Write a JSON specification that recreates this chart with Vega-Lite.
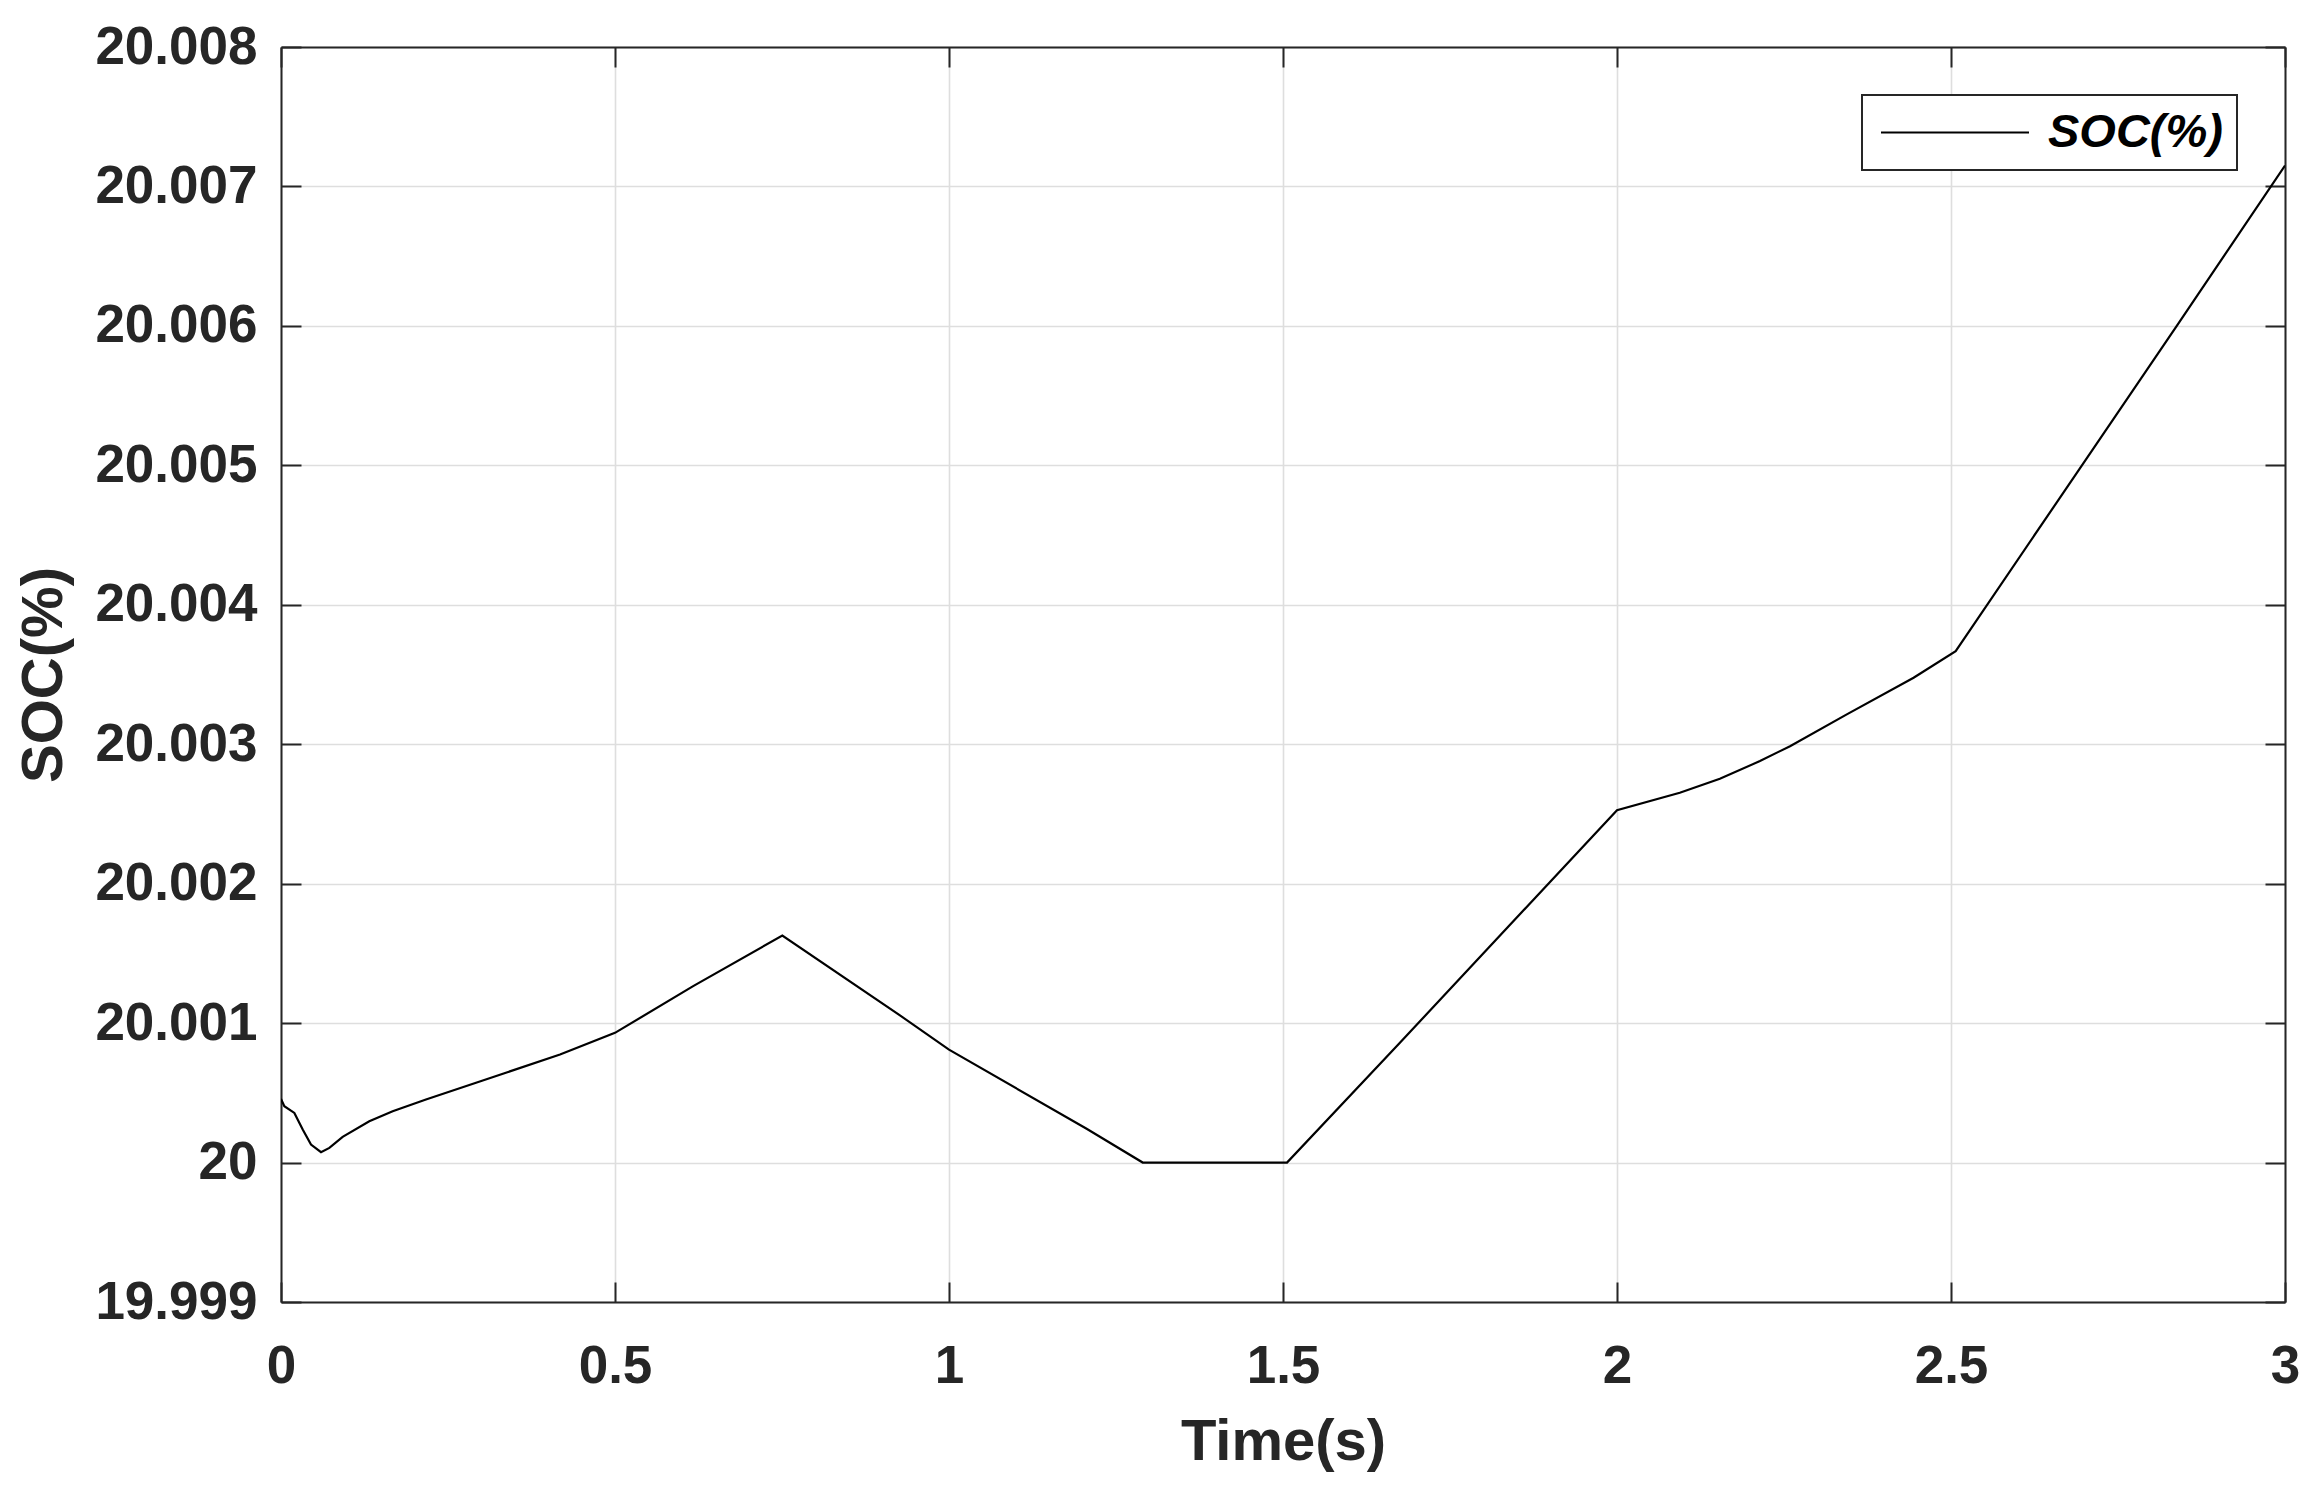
{
  "$schema": "https://vega.github.io/schema/vega-lite/v6.json",
  "width": 2004,
  "height": 1255,
  "autosize": {"type": "none"},
  "padding": {"left": 281, "top": 47, "right": 31, "bottom": 189},
  "background": "white",
  "config": {
    "view": {"stroke": null},
    "font": "Liberation Sans",
    "axis": {
      "domainColor": "#262626",
      "domainWidth": 2,
      "tickColor": "#262626",
      "tickWidth": 2,
      "labelFont": "Liberation Sans",
      "labelFontWeight": "bold",
      "labelFontSize": 53,
      "labelColor": "#262626",
      "titleFont": "Liberation Sans",
      "titleFontWeight": "bold",
      "titleFontSize": 58,
      "titleColor": "#262626",
      "gridColor": "#dedede",
      "gridWidth": 1.6
    }
  },
  "data": {
    "values": [
      {"t": 0, "v": 20.000457, "series": "SOC(%)"},
      {"t": 0.005, "v": 20.000404, "series": "SOC(%)"},
      {"t": 0.02, "v": 20.000356, "series": "SOC(%)"},
      {"t": 0.0325, "v": 20.000237, "series": "SOC(%)"},
      {"t": 0.0449, "v": 20.000129, "series": "SOC(%)"},
      {"t": 0.0599, "v": 20.000074, "series": "SOC(%)"},
      {"t": 0.0724, "v": 20.000105, "series": "SOC(%)"},
      {"t": 0.0923, "v": 20.000184, "series": "SOC(%)"},
      {"t": 0.1322, "v": 20.000296, "series": "SOC(%)"},
      {"t": 0.1672, "v": 20.000368, "series": "SOC(%)"},
      {"t": 0.217, "v": 20.000452, "series": "SOC(%)"},
      {"t": 0.292, "v": 20.000572, "series": "SOC(%)"},
      {"t": 0.4177, "v": 20.000775, "series": "SOC(%)"},
      {"t": 0.5, "v": 20.00093, "series": "SOC(%)"},
      {"t": 0.617, "v": 20.001265, "series": "SOC(%)"},
      {"t": 0.7505, "v": 20.001628, "series": "SOC(%)"},
      {"t": 0.9266, "v": 20.001055, "series": "SOC(%)"},
      {"t": 1.0, "v": 20.00081, "series": "SOC(%)"},
      {"t": 1.206, "v": 20.000242, "series": "SOC(%)"},
      {"t": 1.29, "v": 20.0, "series": "SOC(%)"},
      {"t": 1.506, "v": 20.0, "series": "SOC(%)"},
      {"t": 1.675, "v": 20.000859, "series": "SOC(%)"},
      {"t": 2.0, "v": 20.002527, "series": "SOC(%)"},
      {"t": 2.094, "v": 20.002652, "series": "SOC(%)"},
      {"t": 2.154, "v": 20.002752, "series": "SOC(%)"},
      {"t": 2.214, "v": 20.002879, "series": "SOC(%)"},
      {"t": 2.259, "v": 20.002986, "series": "SOC(%)"},
      {"t": 2.344, "v": 20.003214, "series": "SOC(%)"},
      {"t": 2.444, "v": 20.003477, "series": "SOC(%)"},
      {"t": 2.507, "v": 20.003668, "series": "SOC(%)"},
      {"t": 2.838, "v": 20.006, "series": "SOC(%)"},
      {"t": 3.0, "v": 20.00715, "series": "SOC(%)"}
    ]
  },
  "layer": [
    {
      "mark": {"type": "line", "strokeWidth": 2.2, "clip": true},
      "encoding": {
        "x": {
          "field": "t", "type": "quantitative",
          "scale": {"domain": [0, 3], "nice": false, "zero": false},
          "axis": {
            "orient": "bottom",
            "title": "Time(s)",
            "values": [0, 0.5, 1, 1.5, 2, 2.5, 3],
            "labelExpr": "format(datum.value, '~g')",
            "tickSize": -20,
            "labelPadding": 58,
            "labelBaseline": "top",
            "labelFlush": false,
            "titlePadding": 20,
            "grid": true
          }
        },
        "y": {
          "field": "v", "type": "quantitative",
          "scale": {"domain": [19.999, 20.008], "nice": false, "zero": false},
          "axis": {
            "orient": "left",
            "title": "SOC(%)",
            "values": [19.999, 20, 20.001, 20.002, 20.003, 20.004, 20.005, 20.006, 20.007, 20.008],
            "labelExpr": "format(datum.value, '.3~f')",
            "tickSize": -20,
            "labelPadding": 44,
            "labelFlush": false,
            "titlePadding": 21,
            "grid": true
          }
        },
        "color": {
          "field": "series", "type": "nominal",
          "scale": {"range": ["#000000"]},
          "legend": {
            "title": null,
            "orient": "none",
            "legendX": 1581,
            "legendY": 48,
            "symbolType": "M-1,0H7",
            "symbolSize": 1369,
            "symbolStrokeWidth": 2,
            "labelFont": "Liberation Sans",
            "labelFontStyle": "italic",
            "labelFontWeight": "bold",
            "labelFontSize": 47,
            "labelColor": "#000000",
            "labelOffset": 125,
            "labelLimit": 500,
            "strokeColor": "#262626",
            "fillColor": "white",
            "padding": 14,
            "encode": {"legend": {"update": {"strokeWidth": {"value": 2}}}}
          }
        }
      }
    },
    {
      "mark": {"type": "line", "opacity": 0},
      "encoding": {
        "x": {
          "field": "t", "type": "quantitative",
          "scale": {"domain": [0, 3], "nice": false, "zero": false},
          "axis": {
            "orient": "top",
            "title": null,
            "labels": false,
            "grid": false,
            "values": [0, 0.5, 1, 1.5, 2, 2.5, 3],
            "tickSize": -20
          }
        },
        "y": {
          "field": "v", "type": "quantitative",
          "scale": {"domain": [19.999, 20.008], "nice": false, "zero": false},
          "axis": {
            "orient": "right",
            "title": null,
            "labels": false,
            "grid": false,
            "values": [19.999, 20, 20.001, 20.002, 20.003, 20.004, 20.005, 20.006, 20.007, 20.008],
            "tickSize": -20
          }
        }
      }
    }
  ],
  "resolve": {"axis": {"x": "independent", "y": "independent"}}
}
